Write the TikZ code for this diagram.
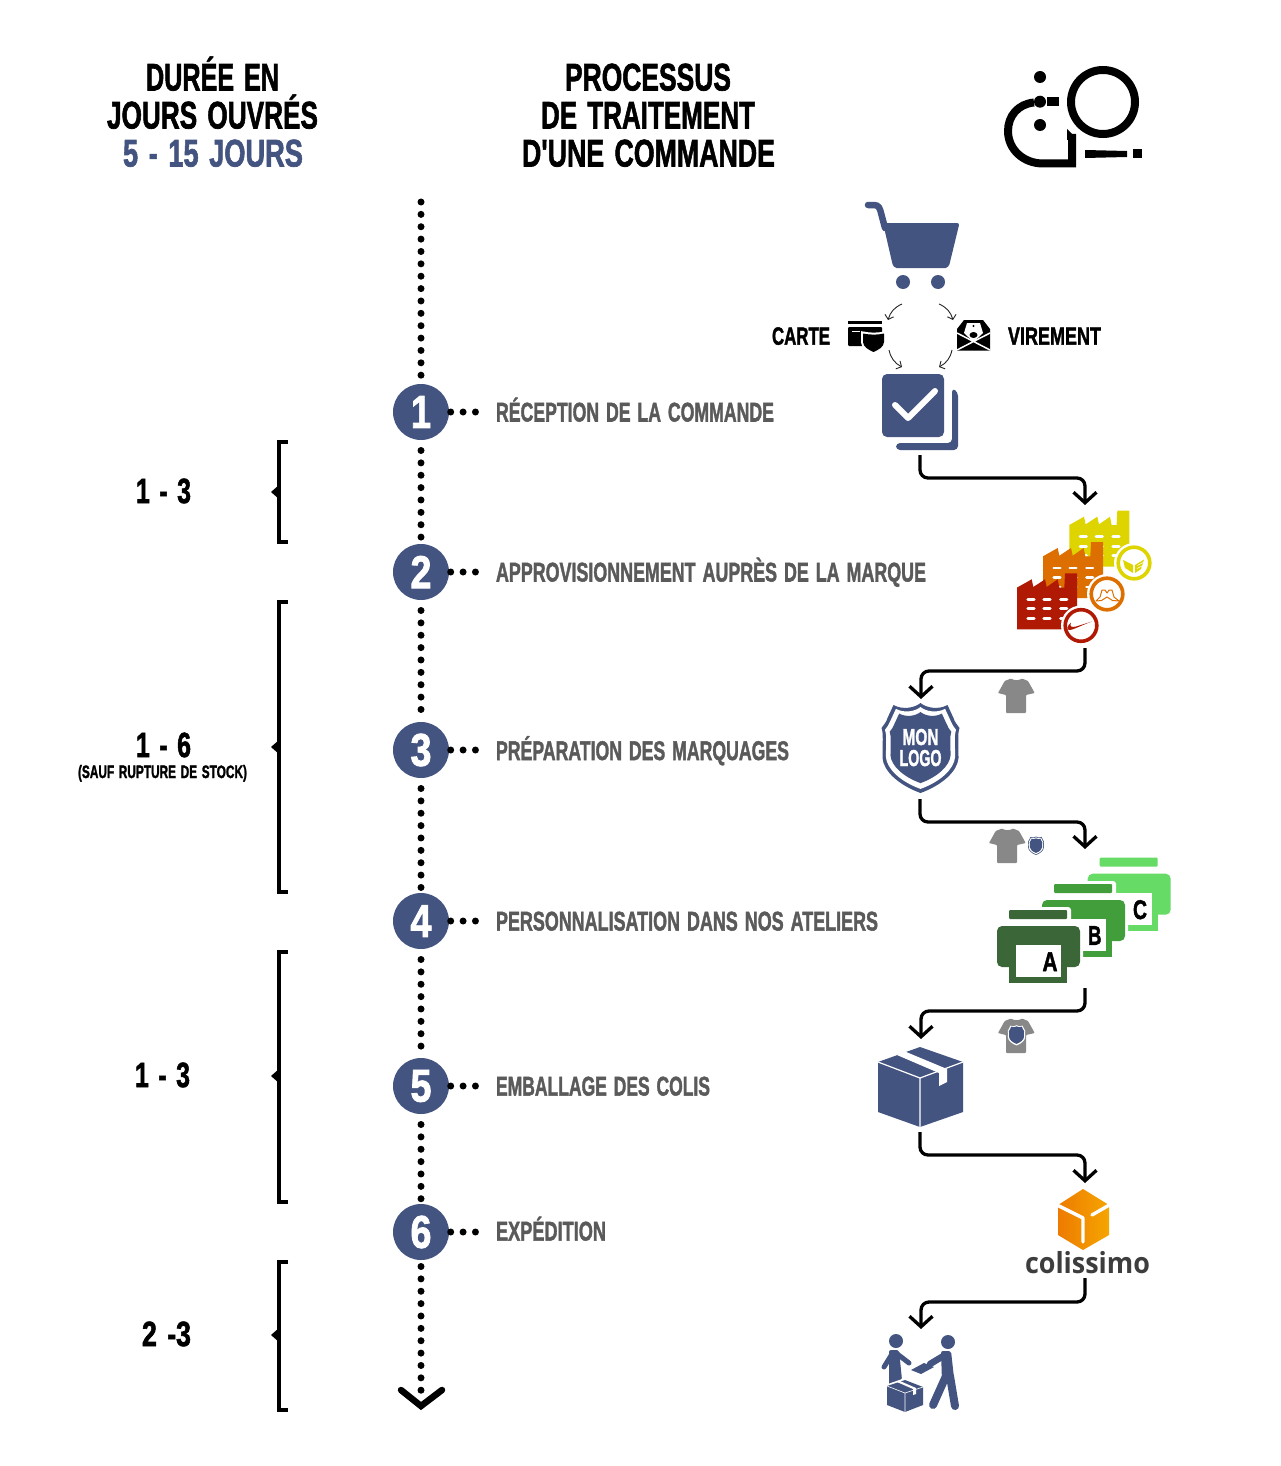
\documentclass[tikz,border=0pt]{standalone}
\usepackage{fontspec}
\usepackage{graphicx}
\usetikzlibrary{arrows.meta,calc}
\setmainfont{Liberation Sans}
\newfontfamily\bb{Liberation Sans}[WordSpace=1.4,BoldFeatures={FakeBold=1.9}]
\newfontfamily\colis{Open Sans}
\newcommand\tw[3]{\resizebox{#1pt}{\height}{\fontsize{#2pt}{#2pt}\selectfont\bb\bfseries #3}}
\definecolor{navy}{HTML}{445480}
\definecolor{labgray}{HTML}{5A5A5A}
\definecolor{shirtgray}{HTML}{888888}
\definecolor{fy}{HTML}{DDD400}
\definecolor{fo}{HTML}{DD6E00}
\definecolor{fr}{HTML}{B01A05}
\definecolor{pa}{HTML}{3B6638}
\definecolor{pb}{HTML}{429E3A}
\definecolor{pc}{HTML}{66DB66}
\newcommand\shieldP{(0,0) .. controls (6,5) and (18,7) .. (27,2) -- (33,15) .. controls (34,19) and (37,22) .. (39,25) .. controls (37,30) and (38,40) .. (38,55)
   .. controls (37,68) and (22,82) .. (0,90) .. controls (-22,82) and (-37,68) .. (-38,55) .. controls (-38,40) and (-37,30) .. (-39,25) .. controls (-37,22) and (-34,19) .. (-33,15) -- (-27,2) .. controls (-18,7) and (-6,5) .. (0,0) -- cycle}
\newcommand\shieldIcon[3]{%
 \begin{scope}[shift={(#1,#2)},scale=#3]
  \fill[navy] \shieldP;
  \begin{scope}[shift={(0,4)},scale=.91] \fill[white] \shieldP; \end{scope}
  \begin{scope}[shift={(0,9)},scale=.79] \fill[navy] \shieldP; \end{scope}
 \end{scope}}
\tikzset{
 txt/.style={anchor=base west,inner sep=0pt,outer sep=0pt},
 stepdisc/.style={circle,fill=navy,minimum size=56pt,inner sep=0pt,text=white},
 dotline/.style={line width=7pt,line cap=round,dash pattern=on 0pt off 12.37pt},
 flow/.style={line width=3.3pt,rounded corners=8pt,-{Straight Barb[length=10.5pt,width=23pt]}},
 mini/.style={line width=.9pt,draw=black!85,-{Straight Barb[length=4pt,width=9pt]}},
 brk/.style={line width=3.2pt},
 factoryicon/.pic={
  \fill[pic actions] (0,0) -- (0,-41.7) -- (14.7,-50) -- (16.3,-42.3) -- (28,-50) -- (29.7,-42.3) -- (40.7,-50) -- (42.3,-41.7) -- (47.3,-41.7) -- (48,-56) -- (60,-56) -- (60,0) -- cycle;
  \foreach \yy in {-30,-20.5,-11} \foreach \xx in {14,30,46.7}
   \draw[white,line width=2.8pt,line cap=round] (\xx-3.2,\yy) -- (\xx+3.2,\yy);
 },
 shirticon/.pic={
  \fill[shirtgray,rounded corners=.8pt] (13,1.5) .. controls (16,3.5) and (21,3.5) .. (24,1.5) -- (30,4) -- (36.7,16) -- (28,18) -- (28,36) -- (8,36) -- (8,18) -- (0,16) -- (6.7,4) -- cycle;
 },
 printericon/.pic={
  \fill[white,rounded corners=3pt] (8,-19) rectangle (74,62);
  \fill[white,rounded corners=5pt] (-3,-3) rectangle (86,44);
  \fill[pic actions,rounded corners=1pt] (12,-16) rectangle (70,-7);
  \fill[pic actions,rounded corners=5pt] (0,0) rectangle (83,41);
  \fill[pic actions] (12,30) rectangle (70,57);
  \fill[white] (19,19) rectangle (64,51);
 },
}
\begin{document}
\begin{tikzpicture}[x=1pt,y=-1pt]
\useasboundingbox (0,0) rectangle (1280,1466);
\fill[white] (0,0) rectangle (1280,1466);

% headers
\node[txt] (h1) at (146,90.5) {\tw{133}{38.5}{DURÉE EN}};
\node[txt] (h2) at (107,128.5) {\tw{211}{38.5}{JOURS OUVRÉS}};
\node[txt,text=navy] (h3) at (123,166.5) {\tw{180}{38.5}{5 - 15 JOURS}};
\node[txt] (h4) at (565,90.5) {\tw{166}{38.5}{PROCESSUS}};
\node[txt] (h5) at (541,128.5) {\tw{214}{38.5}{DE TRAITEMENT}};
\node[txt] (h6) at (522,166.5) {\tw{253}{38.5}{D'UNE COMMANDE}};

% logo
\draw[line width=8pt] (1103,102) circle (32);
\fill (1040,77) circle (6) (1040,101.7) circle (6) (1040,125) circle (6);
\fill (1047,97) rectangle (1059,106);
\draw[line width=8pt] (1034,102.5) .. controls (1018,104) and (1008,116) .. (1008,131) .. controls (1008,150) and (1024,163.5) .. (1043,163.5) -- (1072,163.5) -- (1072,134);
\fill (1067,129) -- (1076,138) -- (1067,140) -- cycle;
\fill (1085,150) -- (1127,151) -- (1127,157) -- (1085,158) -- cycle;
\fill (1133,149) rectangle (1142,158);

% timeline
\node[stepdisc] (c1) at (421,412) {\tw{20}{46}{1}};
\node[stepdisc] (c2) at (421,572) {\tw{21}{46}{2}};
\node[stepdisc] (c3) at (421,750) {\tw{21}{46}{3}};
\node[stepdisc] (c4) at (421,921) {\tw{21}{46}{4}};
\node[stepdisc] (c5) at (421,1086) {\tw{21}{46}{5}};
\node[stepdisc] (c6) at (421,1232) {\tw{21}{46}{6}};
\coordinate (start) at (421,202);
\coordinate (tip) at (421,1406);
\coordinate (armL) at (401,1390);
\coordinate (armR) at (442,1390);
\draw[dotline] (start) -- (c1);
\draw[dotline,shorten <=10.3pt] (c1) -- (c2);
\draw[dotline,shorten <=10.3pt] (c2) -- (c3);
\draw[dotline,shorten <=10.3pt] (c3) -- (c4);
\draw[dotline,shorten <=10.3pt] (c4) -- (c5);
\draw[dotline,shorten <=10.3pt] (c5) -- (c6);
\draw[dotline,shorten <=6.3pt,shorten >=15pt] (c6) -- (tip);
\draw[line width=6.5pt,line cap=round,miter limit=4] (armL) -- (tip) -- (armR);

% labels and their dotted leaders
\node[txt,text=labgray] (l1) at (496,421.5) {\tw{278}{27}{RÉCEPTION DE LA COMMANDE}};
\node[txt,text=labgray] (l2) at (496,581.5) {\tw{430}{27}{APPROVISIONNEMENT AUPRÈS DE LA MARQUE}};
\node[txt,text=labgray] (l3) at (496,760) {\tw{293}{27}{PRÉPARATION DES MARQUAGES}};
\node[txt,text=labgray] (l4) at (496,930.5) {\tw{382}{27}{PERSONNALISATION DANS NOS ATELIERS}};
\node[txt,text=labgray] (l5) at (496,1095.5) {\tw{214}{27}{EMBALLAGE DES COLIS}};
\node[txt,text=labgray] (l6) at (496,1240.5) {\tw{110}{27}{EXPÉDITION}};
\foreach \i/\yy in {1/412,2/572,3/750,4/921,5/1086,6/1232}{
 \coordinate (d\i) at (477,\yy);
 \draw[dotline,shorten <=1.5pt] (c\i) -- (d\i);
}

% durations
\node[txt] (t1) at (136,503) {\tw{55}{35}{1 - 3}};
\node[txt] (t2) at (136,757) {\tw{55}{35}{1 - 6}};
\node[txt] (t2b) at (78,778) {\tw{169}{18}{(SAUF RUPTURE DE STOCK)}};
\node[txt] (t3) at (135,1087) {\tw{55}{35}{1 - 3}};
\node[txt] (t4) at (142,1346) {\tw{49}{35}{2 -3}};
\foreach \ya/\yb/\ym in {442/542/492,602/892/747,952/1202/1076,1262/1410/1335}{
 \draw[brk] (288,\ya) -- (279,\ya) -- (279,\yb) -- (288,\yb);
 \fill (271,\ym) -- (279,\ym-7) -- (279,\ym+7) -- cycle;
}

% cart
\draw[navy,line width=6.5pt,line cap=round] (868,205) -- (874,205) .. controls (879,205) and (880,209) .. (881,213) -- (885,228);
\fill[navy,rounded corners=2.5pt] (883,223) -- (959.5,223) -- (950,262) .. controls (949,266) and (947,268) .. (943,268) -- (899,268) .. controls (895,268) and (893,266) .. (892,262) -- cycle;
\fill[navy] (903,282) circle (7) (938,282) circle (7);

% payment
\node[txt] (carte) at (772,344.7) {\tw{58}{25}{CARTE}};
\node[txt] (vir) at (1008,344.7) {\tw{93}{25}{VIREMENT}};
\fill (848,321) rectangle (882,324);
\fill[rounded corners=1pt] (848,327) rectangle (882,346);
\draw[white,line width=.8pt] (852,331) -- (860,331);
\draw[white,line width=4pt] (863,333.5) .. controls (870,335) and (878,335) .. (884,333.5) -- (884,342) .. controls (884,347) and (878,350) .. (873.5,352) .. controls (869,350) and (863,347) .. (863,342) -- cycle;
\fill (863,333.5) .. controls (870,335) and (878,335) .. (884,333.5) -- (884,342) .. controls (884,347) and (878,350) .. (873.5,352) .. controls (869,350) and (863,347) .. (863,342) -- cycle;
\fill (964,320) -- (983,320) -- (990,329) -- (990,350.5) -- (957,350.5) -- (957,329) -- cycle;
\draw[white,line width=1.5pt] (957,333) -- (990,350) (990,333) -- (957,350);
\fill[white] (967,323) -- (980,323) -- (983,333) -- (973.5,342) -- (964,333) -- cycle;
\fill (973.5,326) circle (1.2);
\fill (973.5,335) ellipse (4 and 3);

% check
\fill[navy,rounded corners=4pt] (952,388) -- (958,392) -- (958,450) -- (896,450) -- (896,443) -- (952,443) -- cycle;
\fill[navy,rounded corners=5pt] (882,374) rectangle (944,437);
\draw[white,line width=6pt,line cap=round,line join=round] (895,405) -- (908,418) -- (935,391);

\coordinate (cartL) at (902,304);
\coordinate (cardT) at (888,320);
\coordinate (cartR) at (939,304);
\coordinate (envT) at (953,320);
\coordinate (cardB) at (889,350);
\coordinate (chkL) at (902,367);
\coordinate (envB) at (952,350);
\coordinate (chkR) at (939,367);
\draw[mini] (cartL) to[bend right=25] (cardT);
\draw[mini] (cartR) to[bend left=25] (envT);
\draw[mini] (cardB) to[bend right=25] (chkL);
\draw[mini] (envB) to[bend left=25] (chkR);

% factories
\pic[fill=fy] at (1069.3,566.7) {factoryicon};
\pic[fill=fo] at (1043,598) {factoryicon};
\pic[fill=fr] at (1017,629.3) {factoryicon};
\foreach \cx/\cy/\cc in {1134/563/fy,1107/594/fo,1081/625.5/fr}{
 \fill[white] (\cx,\cy) circle (20);
 \draw[\cc,line width=3.6pt] (\cx,\cy) circle (15.8);
}
\fill[fy] (1123,560) -- (1133,565) -- (1133,573) -- (1125,568) -- cycle;
\fill[fy] (1135,565) -- (1144,559.5) -- (1141,569) -- (1135,573) -- cycle;
\draw[white,line width=.6pt] (1137.5,565.5) -- (1143,562.5) (1137,568.5) -- (1142,566);
\draw[fo,line width=1pt,line join=round] (1096,601) -- (1100,597) -- (1102,590) -- (1105,590) -- (1107,593) -- (1109,590) -- (1112,590) -- (1114,597) -- (1119,601) -- (1112.5,600.5) -- (1107,597) -- (1101.5,600.5) -- cycle;
\fill[fr] (1092,621.5) .. controls (1082,625) and (1073,630) .. (1069.5,630) .. controls (1066,630) and (1067,626) .. (1071,622.5) .. controls (1069,627) and (1072,627.5) .. (1076,626.5) -- cycle;

% shirts
\pic at (998,677) {shirticon};
\pic at (989,827) {shirticon};
\pic at (998,1017) {shirticon};
\shieldIcon{1036}{836.5}{.205}
\begin{scope}[shift={(1016.5,1025.2)},scale=.225] \fill[white] \shieldP; \end{scope}
\begin{scope}[shift={(1016.5,1026.3)},scale=.195] \fill[navy] \shieldP; \end{scope}

% shield logo
\shieldIcon{920.5}{703}{1}
\node[inner sep=0pt,text=white,anchor=base] (mon) at (920.5,745) {\tw{36}{23}{MON}};
\node[inner sep=0pt,text=white,anchor=base] (logo) at (920.5,766) {\tw{42}{23}{LOGO}};

% printers
\pic[fill=pc] at (1087.7,873.7) {printericon};
\pic[fill=pb] at (1042,900) {printericon};
\pic[fill=pa] at (997,926) {printericon};
\node[txt] (pA) at (1042.5,971) {\tw{15}{27}{A}};
\node[txt] (pB) at (1088,944.8) {\tw{13.5}{27}{B}};
\node[txt] (pC) at (1133,919) {\tw{14}{27}{C}};

% box
\fill[navy] (920,1047) -- (963,1062) -- (963,1112) -- (920,1127) -- (878,1112) -- (878,1062) -- cycle;
\draw[white,line width=1.2pt] (878,1062) -- (920,1078) -- (963,1062) (920,1078) -- (920,1127);
\fill[white] (897,1055) -- (905,1051.5) -- (947,1069) -- (947,1082) -- (939,1086) -- (939,1073) -- cycle;

% colissimo
\begin{scope}
 \clip (1083,1189) -- (1109,1205) -- (1109,1235) -- (1083,1250) -- (1058,1235) -- (1058,1205) -- cycle;
 \shade[shading angle=50,left color={rgb,255:red,236;green,112;blue,0},right color={rgb,255:red,247;green,176;blue,0}] (1045,1180) rectangle (1122,1260);
\end{scope}
\draw[white,line width=3.4pt,line cap=round,line join=round] (1057,1205) -- (1083,1218) -- (1083,1242);
\draw[white,line width=3.4pt,line cap=round] (1092,1215) -- (1111,1204);
\node[txt,text=black!76] (col) at (1025,1273) {\resizebox{125pt}{\height}{\fontsize{29pt}{29pt}\selectfont\colis\bfseries colissimo}};

% handover
\fill[navy] (896,1341) circle (7) (948,1342) circle (7);
\fill[navy,rounded corners=2pt] (889,1350) -- (899,1350) -- (902,1380) -- (889,1385) -- cycle;
\draw[navy,line width=5pt,line cap=round,line join=round] (892,1354) -- (884,1367);
\draw[navy,line width=5pt,line cap=round,line join=round] (896,1353) -- (909,1363);
\fill[navy,rounded corners=2pt] (941,1351) -- (951,1351) -- (954,1378) -- (942,1382) -- cycle;
\draw[navy,line width=6.5pt,line cap=round,line join=round] (945,1355) -- (930,1364);
\draw[navy,line width=8pt,line cap=round,line join=round] (946,1376) -- (933,1405);
\draw[navy,line width=8pt,line cap=round,line join=round] (950,1376) -- (955,1406);
\fill[navy] (911,1370) -- (924,1363) -- (934,1367) -- (921,1374) -- cycle;
\fill[white] (905,1378) -- (925,1386) -- (925,1406) -- (905,1414) -- (885,1406) -- (885,1385) -- cycle;
\fill[navy] (905,1380) -- (923,1387) -- (923,1405) -- (905,1412) -- (887,1405) -- (887,1386) -- cycle;
\draw[white,line width=.6pt] (887,1386) -- (905,1393) -- (923,1387) (905,1393) -- (905,1412);
\fill[white] (897,1382) -- (900,1381) -- (916,1388) -- (916,1394) -- (913,1395) -- (913,1389) -- cycle;

% flow connectors
\coordinate (s1) at (920,455);
\coordinate (m1) at (1000,478);
\coordinate (e1) at (1085,505);
\draw[flow] (s1) |- (m1) -| (e1);
\coordinate (s2) at (1085,648);
\coordinate (m2) at (1000,671);
\coordinate (e2) at (921,699);
\draw[flow] (s2) |- (m2) -| (e2);
\coordinate (s3) at (920,799);
\coordinate (m3) at (1000,822);
\coordinate (e3) at (1085,849);
\draw[flow] (s3) |- (m3) -| (e3);
\coordinate (s4) at (1085,988);
\coordinate (m4) at (1000,1011);
\coordinate (e4) at (921,1039);
\draw[flow] (s4) |- (m4) -| (e4);
\coordinate (s5) at (920,1132);
\coordinate (m5) at (1000,1155);
\coordinate (e5) at (1085,1183);
\draw[flow] (s5) |- (m5) -| (e5);
\coordinate (s6) at (1085,1278);
\coordinate (m6) at (1000,1302);
\coordinate (e6) at (921,1329);
\draw[flow] (s6) |- (m6) -| (e6);
\end{tikzpicture}
\end{document}
